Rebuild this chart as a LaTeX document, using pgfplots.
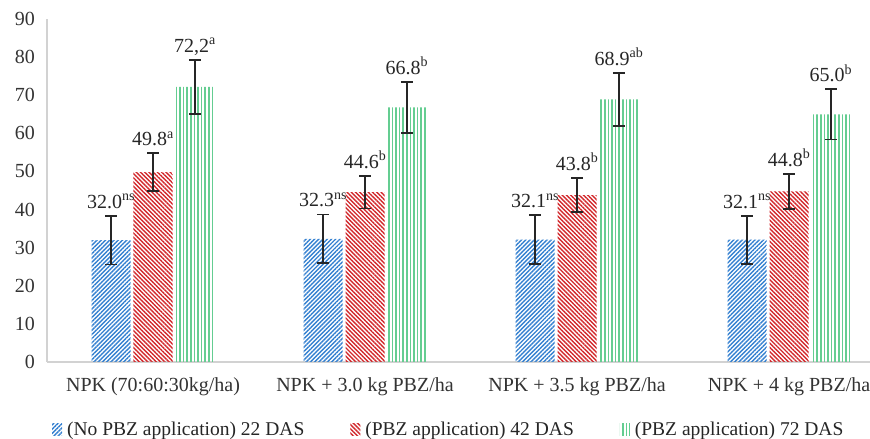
\documentclass[border=0pt]{standalone}
\usepackage{fontspec}
\setmainfont{Liberation Serif}
\usepackage{pgfplots}
\pgfplotsset{compat=1.18}
\usepackage{pgfplotstable}
\usetikzlibrary{patterns.meta}

\definecolor{cblue}{RGB}{52,128,208}
\definecolor{cred}{RGB}{210,40,44}
\definecolor{cgreen}{RGB}{100,205,145}
\definecolor{cax}{RGB}{210,210,210}
\newcommand\cf{\fontsize{20}{24}\selectfont}
\newcommand\lf{\fontsize{19.5}{23}\selectfont}

% No PBZ, 22 DAS
\pgfplotstableread{
x y e lab
0 32.0 6.4 {32.0\textsuperscript{ns}}
1 32.3 6.4 {32.3\textsuperscript{ns}}
2 32.1 6.4 {32.1\textsuperscript{ns}}
3 32.1 6.3 {32.1\textsuperscript{ns}}
}\dasA
% PBZ, 42 DAS
\pgfplotstableread{
x y e lab
0 49.8 5.0 {49.8\textsuperscript{a}}
1 44.6 4.3 {44.6\textsuperscript{b}}
2 43.8 4.5 {43.8\textsuperscript{b}}
3 44.8 4.6 {44.8\textsuperscript{b}}
}\dasB
% PBZ, 72 DAS
\pgfplotstableread{
x y e lab
0 72.2 7.1 {72,2\textsuperscript{a}}
1 66.8 6.7 {66.8\textsuperscript{b}}
2 68.9 7.0 {68.9\textsuperscript{ab}}
3 65.0 6.6 {65.0\textsuperscript{b}}
}\dasC

\begin{document}
\begin{tikzpicture}
\begin{axis}[
    name=ax,
    scale only axis,
    width=823pt, height=343pt,
    ybar, bar width=0.184,
    enlargelimits=false,
    xmin=-0.5, xmax=3.382,
    ymin=0, ymax=90,
    ytick={0,10,...,90},
    xtick={0,1,2,3},
    xticklabels={NPK (70:60:30kg/ha), NPK + 3.0 kg PBZ/ha, NPK + 3.5 kg PBZ/ha, NPK + 4 kg PBZ/ha},
    axis x line*=bottom, axis y line*=left,
    axis line style={draw=cax, line width=1.5pt},
    major tick length=0pt,
    tick label style={font=\cf, text=black!80},
    yticklabel style={xshift=-8.5pt},
    xticklabel style={yshift=-12pt},
    /pgf/number format/assume math mode=true,
    clip=false,
    every node near coord/.append style={font=\cf, text=black!85, anchor=south,
        text depth=0pt, yshift=4pt},
    error bars/y dir=both, error bars/y explicit,
    error bars/error bar style={line width=1.8pt, draw=black!85},
    error bars/error mark=-,
    error bars/error mark options={rotate=90, mark size=6pt, line width=1.8pt, draw=black!85},
    legend columns=3,
    legend style={at={(axis description cs:0.006,-0.197)}, anchor=west,
        draw=none, font=\lf, text=black!85, inner sep=0pt,
        /tikz/every odd column/.append style={column sep=3pt},
        /tikz/every even column/.append style={column sep=44pt}},
    legend image code/.code={\fill[#1] (0pt,-6pt) rectangle (10pt,6pt);},
]
\addplot[draw=none, bar shift=-0.198,
    pattern={Lines[angle=45, distance=3pt, line width=1.4pt]}, pattern color=cblue]
    table[x=x, y=y, y error=e] {\dasA};
\addplot[draw=none, bar shift=0,
    pattern={Lines[angle=-45, distance=3pt, line width=1.4pt]}, pattern color=cred]
    table[x=x, y=y, y error=e] {\dasB};
\addplot[draw=none, bar shift=0.198,
    pattern={Lines[angle=90, distance=3.6pt, line width=1.6pt]}, pattern color=cgreen]
    table[x=x, y=y, y error=e] {\dasC};
\legend{(No PBZ application) 22 DAS, (PBZ application) 42 DAS, (PBZ application) 72 DAS}
% value labels above the error bars
\addplot[draw=none, fill=none, forget plot, bar shift=-0.198, nodes near coords,
    point meta=explicit symbolic]
    table[x=x, y expr=\thisrow{y}+\thisrow{e}, meta=lab] {\dasA};
\addplot[draw=none, fill=none, forget plot, bar shift=0, nodes near coords,
    point meta=explicit symbolic]
    table[x=x, y expr=\thisrow{y}+\thisrow{e}, meta=lab] {\dasB};
\addplot[draw=none, fill=none, forget plot, bar shift=0.198, nodes near coords,
    point meta=explicit symbolic]
    table[x=x, y expr=\thisrow{y}+\thisrow{e}, meta=lab] {\dasC};
\end{axis}
\pgfresetboundingbox
\path[use as bounding box] ([shift={(-47pt,-77pt)}]ax.south west) rectangle ([shift={(0pt,19pt)}]ax.north east);
\end{tikzpicture}
\end{document}
